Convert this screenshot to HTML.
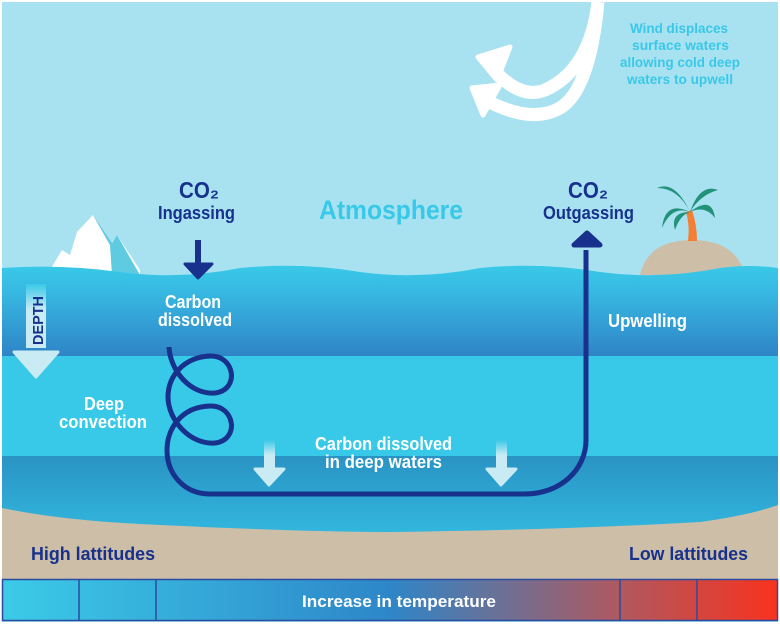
<!DOCTYPE html>
<html><head><meta charset="utf-8"><style>
body{margin:0;width:780px;height:626px;overflow:hidden;background:#fff}
svg{display:block}
text{font-family:"Liberation Sans Narrow","Liberation Sans",sans-serif;font-weight:bold}
</style></head><body>
<svg width="780" height="626" viewBox="0 0 780 626">
<defs>
<linearGradient id="surf" x1="0" y1="0" x2="0" y2="1"><stop offset="0" stop-color="#39c9e8"/><stop offset="0.3" stop-color="#37b8e2"/><stop offset="1" stop-color="#2f84c6"/></linearGradient>
<linearGradient id="deep" x1="0" y1="0" x2="0" y2="1"><stop offset="0" stop-color="#2a93c4"/><stop offset="1" stop-color="#33bde2"/></linearGradient>
<linearGradient id="temp" x1="0" y1="0" x2="1" y2="0"><stop offset="0" stop-color="#3bcbe8"/><stop offset="0.5" stop-color="#2e86c8"/><stop offset="0.8" stop-color="#b0585e"/><stop offset="1" stop-color="#f9321e"/></linearGradient>
<linearGradient id="depth" x1="0" y1="0" x2="0" y2="1"><stop offset="0" stop-color="#39c9e8"/><stop offset="0.4" stop-color="#c9ebf3"/></linearGradient>
<linearGradient id="darr" x1="0" y1="0" x2="0" y2="1"><stop offset="0" stop-color="#39c9e8"/><stop offset="0.5" stop-color="#c9ebf3"/></linearGradient>
</defs>
<rect x="0" y="0" width="780" height="626" fill="#fff"/>
<rect x="2" y="2" width="776" height="620" fill="#a8e2f1"/>
<!-- island -->
<path d="M640 275 Q648 240 692 240 Q736 240 745 275 Z" fill="#cdbea8"/>
<path d="M686 212 Q690 225 688 241 L697 241 Q697 225 692 210 Z" fill="#f27f33"/>
<g fill="#22927a">
<path d="M690 212 Q675 180 657 188 Q678 188 690 212Z"/>
<path d="M690 212 Q700 183 718 190 Q700 195 690 212Z"/>
<path d="M690 212 Q665 200 662 228 Q672 205 690 212Z"/>
<path d="M690 212 Q712 195 715 218 Q705 205 690 212Z"/>
<path d="M690 212 Q670 212 675 230 Q680 215 690 212Z"/>
</g>
<!-- iceberg -->
<path d="M47 275 L62 250 L70 255 L77 232 L93 215 L110 245 L117 235 L140 270 L140 275Z" fill="#fff"/>
<path d="M93 215 L110 245 L112 275 L140 275 L117 235 L112 243 Z" fill="#5ecbe0"/>
<!-- water layers -->
<path d="M2 268 Q60 264 120 272 Q180 280 240 268 Q300 262 360 272 Q420 280 480 268 Q540 262 600 272 Q660 280 720 268 Q750 264 778 268 L778 356 L2 356Z" fill="url(#surf)"/>
<rect x="2" y="356" width="776" height="100" fill="#39c9e8"/>
<rect x="2" y="456" width="776" height="90" fill="url(#deep)"/>
<path d="M2 508 Q60 520 140 524 Q300 532 390 532 Q560 530 700 522 Q750 515 778 505 L778 580 L2 580Z" fill="#cdbea8"/>
<!-- temperature bar -->
<rect x="2.5" y="579.5" width="775" height="41" fill="url(#temp)" stroke="#2b4aa0" stroke-width="1.5"/>
<g stroke="#2b4aa0" stroke-width="1.5"><line x1="79" y1="580" x2="79" y2="621"/><line x1="156" y1="580" x2="156" y2="621"/><line x1="620" y1="580" x2="620" y2="621"/><line x1="697" y1="580" x2="697" y2="621"/></g>
<text x="302" y="607" fill="#fff" font-size="17" textLength="194" lengthAdjust="spacingAndGlyphs" font-weight="normal">Increase in temperature</text>
<text x="31" y="560" fill="#17318c" font-size="18" textLength="124" lengthAdjust="spacingAndGlyphs">High lattitudes</text>
<text x="629" y="560" fill="#17318c" font-size="18" textLength="119" lengthAdjust="spacingAndGlyphs">Low lattitudes</text>
<!-- wind -->
<path d="M598 2 Q590 70 545 90 Q520 100 492 68 M598 2 Q590 90 560 108 Q530 125 482 98" fill="none" stroke="#fff" stroke-width="13"/>
<path d="M478 57 L510 47 L497 80Z M472 88 L500 85 L483 115Z" fill="#fff" stroke="#fff" stroke-width="5" stroke-linejoin="round"/>
<g fill="#3ac8e8" font-size="14" font-weight="normal" lengthAdjust="spacingAndGlyphs">
<text x="630" y="33" textLength="98" lengthAdjust="spacingAndGlyphs">Wind displaces</text>
<text x="632" y="50" textLength="97" lengthAdjust="spacingAndGlyphs">surface waters</text>
<text x="620" y="67" textLength="120" lengthAdjust="spacingAndGlyphs">allowing cold deep</text>
<text x="627" y="84" textLength="106" lengthAdjust="spacingAndGlyphs">waters to upwell</text></g>
<text x="319" y="219" fill="#39c9e8" font-size="27" textLength="144" lengthAdjust="spacingAndGlyphs">Atmosphere</text>
<text x="179" y="198" fill="#17318c" font-size="23" textLength="40" lengthAdjust="spacingAndGlyphs">CO₂</text>
<text x="158" y="219" fill="#17318c" font-size="18" textLength="77" lengthAdjust="spacingAndGlyphs">Ingassing</text>
<text x="568" y="198" fill="#17318c" font-size="23" textLength="40" lengthAdjust="spacingAndGlyphs">CO₂</text>
<text x="543" y="219" fill="#17318c" font-size="18" textLength="91" lengthAdjust="spacingAndGlyphs">Outgassing</text>
<!-- ingassing arrow -->
<line x1="198" y1="240" x2="198" y2="266" stroke="#17318c" stroke-width="6"/>
<path d="M185 264 L212 264 L198 278Z" fill="#17318c" stroke="#17318c" stroke-width="3" stroke-linejoin="round"/>
<!-- depth arrow -->
<rect x="26" y="284" width="20" height="64" fill="url(#depth)"/>
<path d="M14 352 L58 352 L36 377Z" fill="#c9ebf3" stroke="#c9ebf3" stroke-width="3" stroke-linejoin="round"/>
<text transform="translate(43,345) rotate(-90)" fill="#17318c" font-size="15" textLength="49" lengthAdjust="spacingAndGlyphs">DEPTH</text>
<!-- small arrows -->
<rect x="264" y="440" width="11" height="30" fill="url(#darr)"/><path d="M255 469 L284 469 L269 485Z" fill="#c9ebf3" stroke="#c9ebf3" stroke-width="3" stroke-linejoin="round"/>
<rect x="496" y="440" width="11" height="30" fill="url(#darr)"/><path d="M487 469 L516 469 L501 485Z" fill="#c9ebf3" stroke="#c9ebf3" stroke-width="3" stroke-linejoin="round"/>
<!-- carbon path -->
<path d="M169 347 C170 370 190 395 215 393 C240 390 235 355 210 356 C185 357 168 375 168 397 C168 420 190 445 215 443 C240 440 235 405 210 406 C180 407 167 430 167 450 C167 475 185 494 210 494 L525 494 C560 494 586 470 586 440 L586 250" fill="none" stroke="#17318c" stroke-width="5"/>
<path d="M574 245 L600 245 L587 233Z" fill="#17318c" stroke="#17318c" stroke-width="5" stroke-linejoin="round"/>
<g fill="#fff">
<text x="165" y="308" font-size="18" font-weight="normal" textLength="56" lengthAdjust="spacingAndGlyphs">Carbon</text>
<text x="158" y="326" font-size="18" font-weight="normal" textLength="74" lengthAdjust="spacingAndGlyphs">dissolved</text>
<text x="84" y="410" font-size="18" textLength="40" lengthAdjust="spacingAndGlyphs">Deep</text>
<text x="59" y="428" font-size="18" textLength="88" lengthAdjust="spacingAndGlyphs">convection</text>
<text x="315" y="450" font-size="18" textLength="137" lengthAdjust="spacingAndGlyphs">Carbon dissolved</text>
<text x="325" y="468" font-size="18" font-weight="normal" textLength="117" lengthAdjust="spacingAndGlyphs">in deep waters</text>
<text x="608" y="327" font-size="18" font-weight="normal" textLength="79" lengthAdjust="spacingAndGlyphs">Upwelling</text>
</g>
</svg>
</body></html>
